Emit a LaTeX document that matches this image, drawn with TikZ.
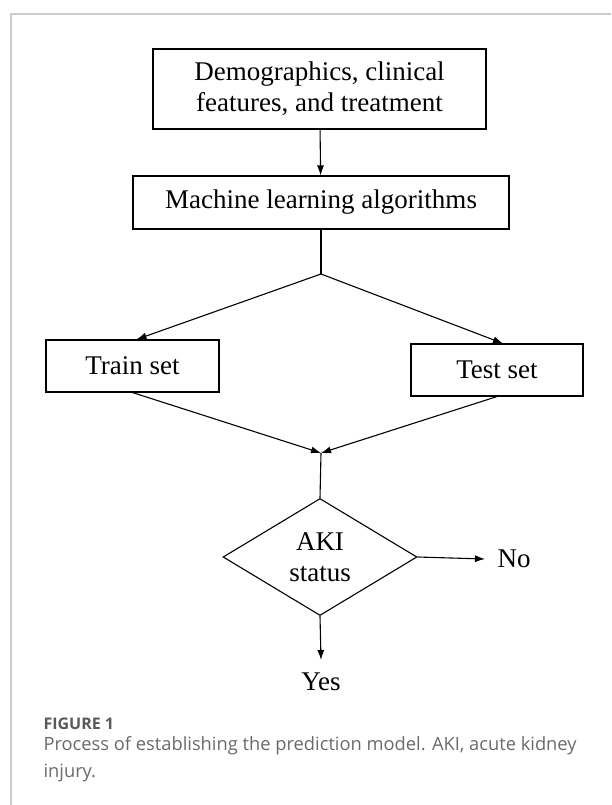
\documentclass[tikz,border=0pt]{standalone}
\usepackage{fontspec}
\setmainfont{Liberation Serif}
\newfontfamily\capfont{Open Sans}
\usepackage{xcolor}
\usepackage{tikz}
\definecolor{frameGray}{HTML}{CCCCCC}
\definecolor{capHead}{HTML}{5A5A5A}
\definecolor{capText}{HTML}{6A6A6A}
\usetikzlibrary{arrows.meta,shapes.geometric}

\begin{document}
\begin{tikzpicture}[x=1pt,y=-1pt, line width=1.1pt,
  every node/.style={font=\fontsize{27}{31}\selectfont},
  flowbox/.style={draw, rectangle, align=center, inner sep=0pt},
  arr/.style={-{Latex[length=10pt,width=7pt]}}]
  \useasboundingbox (0,0) rectangle (611,805);
  % frame of the figure panel
  \draw[frameGray, line width=2pt] (11,805) -- (11,14) -- (611,14);
  % boxes
  \node[flowbox, minimum width=333, minimum height=80] (demo) at (319.5,89) {Demographics, clinical\\features, and treatment};
  \node[flowbox, minimum width=376, minimum height=53] (mla) at (321,202.5) {Machine learning algorithms};
  \node[flowbox, minimum width=173, minimum height=52] (train) at (132.5,366) {Train set};
  \node[flowbox, minimum width=172, minimum height=52] (test) at (497,370) {Test set};
  \node[draw, diamond, aspect=1.66, inner sep=0pt, minimum width=194, minimum height=117, align=center] (aki) at (320,557) {AKI\\status};
  \node[anchor=west, inner sep=2pt] (no) at (495,559) {No};
  \node[anchor=north, inner sep=2pt] (yes) at (321,670) {Yes};
  \coordinate (split) at (321,274);
  \coordinate (merge) at (321,453);
  % connectors
  \draw[arr] (demo) -- (mla);
  \draw (mla) -- (split);
  \draw[arr] (split) -- ([xshift=4pt]train.north);
  \draw[arr] (split) -- ([xshift=6pt]test.north);
  \draw[arr] (train.south) -- (merge);
  \draw[arr] (test.south) -- (merge);
  \draw (merge) -- (aki.north);
  \draw[arr] (aki.east) -- ([xshift=-10pt]no.west);
  \draw[arr] (aki.south) -- ([yshift=10pt]yes.north);
  % caption
  \node[anchor=west, inner sep=0pt, text=capHead, font=\capfont\bfseries\fontsize{16}{19}\selectfont] (fighead) at (43,724) {FIGURE 1};
  \node[anchor=north west, inner sep=0pt, align=left, text=capText, font=\capfont\fontsize{18.3}{27}\selectfont] (figcap) at (43,736) {Process of establishing the prediction model. AKI, acute kidney\\injury.};
\end{tikzpicture}
\end{document}
